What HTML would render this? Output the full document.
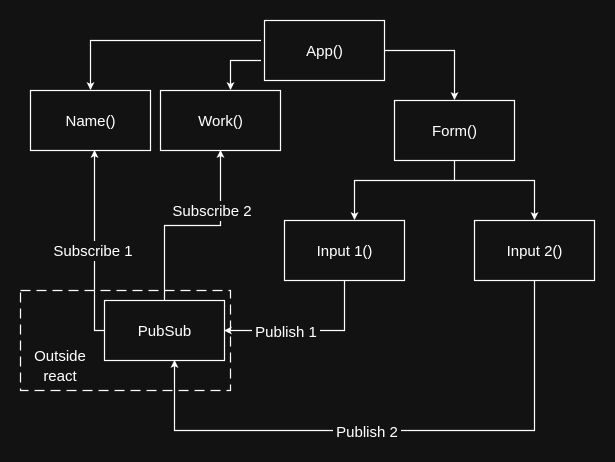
<!DOCTYPE html>
<html><head><style>html,body{margin:0;padding:0;background:#121212;}svg{display:block}</style></head>
<body>
<svg width="615" height="462" viewBox="0 0 615 462" xmlns="http://www.w3.org/2000/svg" font-family="Liberation Sans, sans-serif" font-size="15" fill="none">
<rect width="615" height="462" fill="#121212"/>
<defs><marker id="a" markerWidth="8" markerHeight="8" refX="7" refY="4" orient="auto" markerUnits="userSpaceOnUse"><path d="M0,0 L8,4 L0,8 L2,4 Z" fill="#fff"/></marker></defs>
<g stroke="#fff" stroke-width="1.2">
<rect x="20.5" y="290.5" width="210" height="100" stroke-dasharray="10,6"/>
<rect x="264.5" y="20.5" width="120" height="60"/>
<rect x="30.5" y="90.5" width="120" height="60"/>
<rect x="160.5" y="90.5" width="120" height="60"/>
<rect x="394.5" y="100.5" width="120" height="60"/>
<rect x="284.5" y="220.5" width="120" height="60"/>
<rect x="474.5" y="220.5" width="120" height="60"/>
<rect x="104.5" y="300.5" width="120" height="60"/>
<path d="M261 40.5H90.5V89" marker-end="url(#a)"/>
<path d="M261 60.5H230.5V89" marker-end="url(#a)"/>
<path d="M384.5 50.5H454.5V99" marker-end="url(#a)"/>
<path d="M454.5 160.5V180.5H354.5V219" marker-end="url(#a)"/>
<path d="M454.5 180.5H534.5V219" marker-end="url(#a)"/>
<path d="M104.5 330.5H94.5V151" marker-end="url(#a)"/>
<path d="M164.5 300.5V225.5H220.5V151" marker-end="url(#a)"/>
<path d="M344.5 280.5V330.5H225" marker-end="url(#a)"/>
<path d="M534.5 280.5V430.5H174.5V361" marker-end="url(#a)"/>
</g>
<g stroke="none">
<rect x="50" y="241" width="88" height="20" fill="#121212"/>
<rect x="167" y="201" width="90" height="20" fill="#121212"/>
<rect x="252" y="322" width="68" height="20" fill="#121212"/>
<rect x="333" y="422" width="68" height="20" fill="#121212"/>
</g>
<g fill="#fff" text-anchor="middle" stroke="none">
<text x="324.5" y="56">App()</text>
<text x="90.5" y="126">Name()</text>
<text x="220.5" y="126">Work()</text>
<text x="454.5" y="136">Form()</text>
<text x="344.5" y="256">Input 1()</text>
<text x="534.5" y="256">Input 2()</text>
<text x="164.5" y="336">PubSub</text>
<text x="93" y="256">Subscribe 1</text>
<text x="212" y="216">Subscribe 2</text>
<text x="286" y="337">Publish 1</text>
<text x="367" y="437">Publish 2</text>
<text x="60" y="361">Outside</text>
<text x="60" y="381">react</text>
</g>
</svg>
</body></html>
